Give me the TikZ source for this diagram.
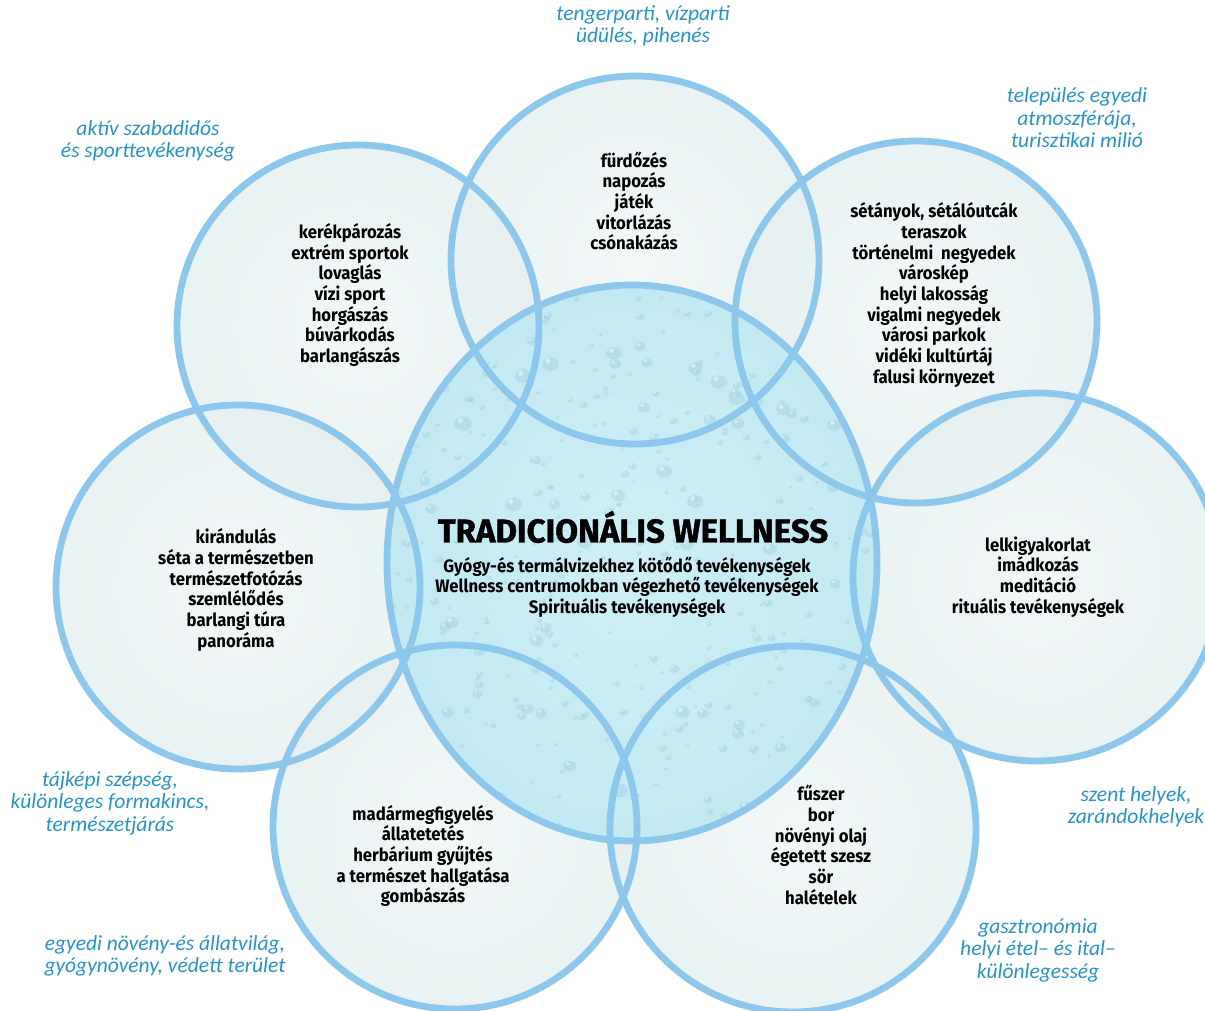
\documentclass[tikz,border=0pt]{standalone}
\usepackage{fontspec}
\setmainfont{Fira Sans}
\newfontfamily\blkfont{Fira Sans}[FakeStretch=0.93]
\newfontfamily\ttlfont{Fira Sans}[FakeBold=1.2]
\newfontfamily\labfont{Carlito}
\definecolor{ring}{RGB}{141,200,236}
\definecolor{labblue}{RGB}{38,148,204}
\definecolor{oin}{RGB}{240,246,246}
\definecolor{omid}{RGB}{226,238,239}
\definecolor{oout}{RGB}{208,227,230}
\definecolor{cin}{RGB}{206,239,246}
\definecolor{cmid}{RGB}{192,232,241}
\definecolor{cout}{RGB}{170,221,234}
\definecolor{dropdark}{RGB}{150,205,222}
\pgfdeclareradialshading{outerball}{\pgfpoint{0bp}{0bp}}{color(0bp)=(oin); color(30bp)=(omid); color(50bp)=(oout)}
\pgfdeclareradialshading{centerball}{\pgfpoint{0bp}{0bp}}{color(0bp)=(cin); color(30bp)=(cmid); color(50bp)=(cout)}
\tikzset{
  ringline/.style={draw=ring, line width=6.8pt},
  outerfill/.style={shading=outerball, fill opacity=0.8},
  drop/.style={fill=dropdark, fill opacity=0.35},
  shine/.style={fill=white, fill opacity=0.45},
  blk/.style={align=center, text=black, inner sep=0pt, font=\blkfont\bfseries\fontsize{18}{20.7}\selectfont},
  lab/.style={align=center, text=labblue, inner sep=0pt, font=\labfont\itshape\fontsize{21.5}{22.5}\selectfont},
  ttl/.style={align=center, text=black, inner sep=0pt, font=\ttlfont\bfseries\fontsize{33}{36}\selectfont}
}
\begin{document}
\begin{tikzpicture}[x=1pt,y=-1pt]
\useasboundingbox (0,0) rectangle (1205,1011);
\fill[white] (0,0) rectangle (1205,1011);
\begin{scope}
\clip (0,0) rectangle (1205,1011);
% outer circle fills
\shade[outerfill] (635,260) circle (184);
\shade[outerfill] (358,326) circle (181);
\shade[outerfill] (916,322) circle (181);
\shade[outerfill] (238,587) circle (182);
\shade[outerfill] (1037,577) circle (184);
\shade[outerfill] (455,827) circle (182);
\shade[outerfill] (793,829) circle (183);
% centre
\shade[shading=centerball] (632,563) ellipse [x radius=245, y radius=278];
\begin{scope}
\clip (632,563) ellipse [x radius=245, y radius=278];
\pgfmathsetseed{11}
\foreach \i in {1,...,420} {
  \pgfmathsetmacro{\dx}{387+490*rnd}
  \pgfmathsetmacro{\dy}{285+556*rnd}
  \pgfmathsetmacro{\dr}{2+7*rnd*rnd}
  \fill[drop] (\dx,\dy) ellipse [x radius=\dr, y radius=0.8*\dr];
  \fill[shine] (\dx-0.3*\dr,\dy-0.35*\dr) circle (0.3*\dr);
}
\end{scope}
% outlines
\draw[ringline] (635,260) circle (184);
\draw[ringline] (358,326) circle (181);
\draw[ringline] (916,322) circle (181);
\draw[ringline] (238,587) circle (182);
\draw[ringline] (1037,577) circle (184);
\draw[ringline] (455,827) circle (182);
\draw[ringline] (793,829) circle (183);
\draw[ringline] (632,563) ellipse [x radius=245, y radius=278];
\end{scope}
% texts in circles
\node[blk] (ttop) at (634,201) {fürdőzés\\napozás\\játék\\vitorlázás\\csónakázás};
\node[blk] (ttl) at (350,295) {kerékpározás\\extrém sportok\\lovaglás\\vízi sport\\horgászás\\búvárkodás\\barlangászás};
\node[blk] (ttr) at (934,295) {sétányok, sétálóutcák\\teraszok\\történelmi\ \ negyedek\\városkép\\helyi lakosság\\vigalmi negyedek\\városi parkok\\vidéki kultúrtáj\\falusi környezet};
\node[blk] (tleft) at (236,590) {kirándulás\\séta a természetben\\természetfotózás\\szemlélődés\\barlangi túra\\panoráma};
\node[blk] (tright) at (1038,577) {lelkigyakorlat\\imádkozás\\meditáció\\rituális tevékenységek};
\node[blk] (tbl) at (423,856) {madármegfigyelés\\állatetetés\\herbárium gyűjtés\\a természet hallgatása\\gombászás};
\node[blk] (tbr) at (821,845) {fűszer\\bor\\növényi olaj\\égetett szesz\\sör\\halételek};
\node[ttl] (title) at (633,527) {TRADICIONÁLIS WELLNESS};
\node[blk] (sub) at (627,587) {Gyógy-és termálvizekhez kötődő tevékenységek\\Wellness centrumokban végezhető tevékenységek\\Spirituális tevékenységek};
% outer labels
\node[lab] (ltop) at (643,26) {tengerparti, vízparti\\üdülés, pihenés};
\node[lab] (ltl) at (148,141) {aktív szabadidős\\és sporttevékenység};
\node[lab] (ltr) at (1077,118) {település egyedi\\atmoszférája,\\turisztikai milió};
\node[lab] (lleft) at (110,803) {tájképi szépség,\\különleges formakincs,\\természetjárás};
\node[lab] (lright) at (1136,807) {szent helyek,\\zarándokhelyek};
\node[lab] (lbr) at (1038,950) {gasztronómia\\helyi étel– és ital–\\különlegesség};
\node[lab] (lbl) at (165,956) {egyedi növény-és állatvilág,\\gyógynövény, védett terület};
\end{tikzpicture}
\end{document}
